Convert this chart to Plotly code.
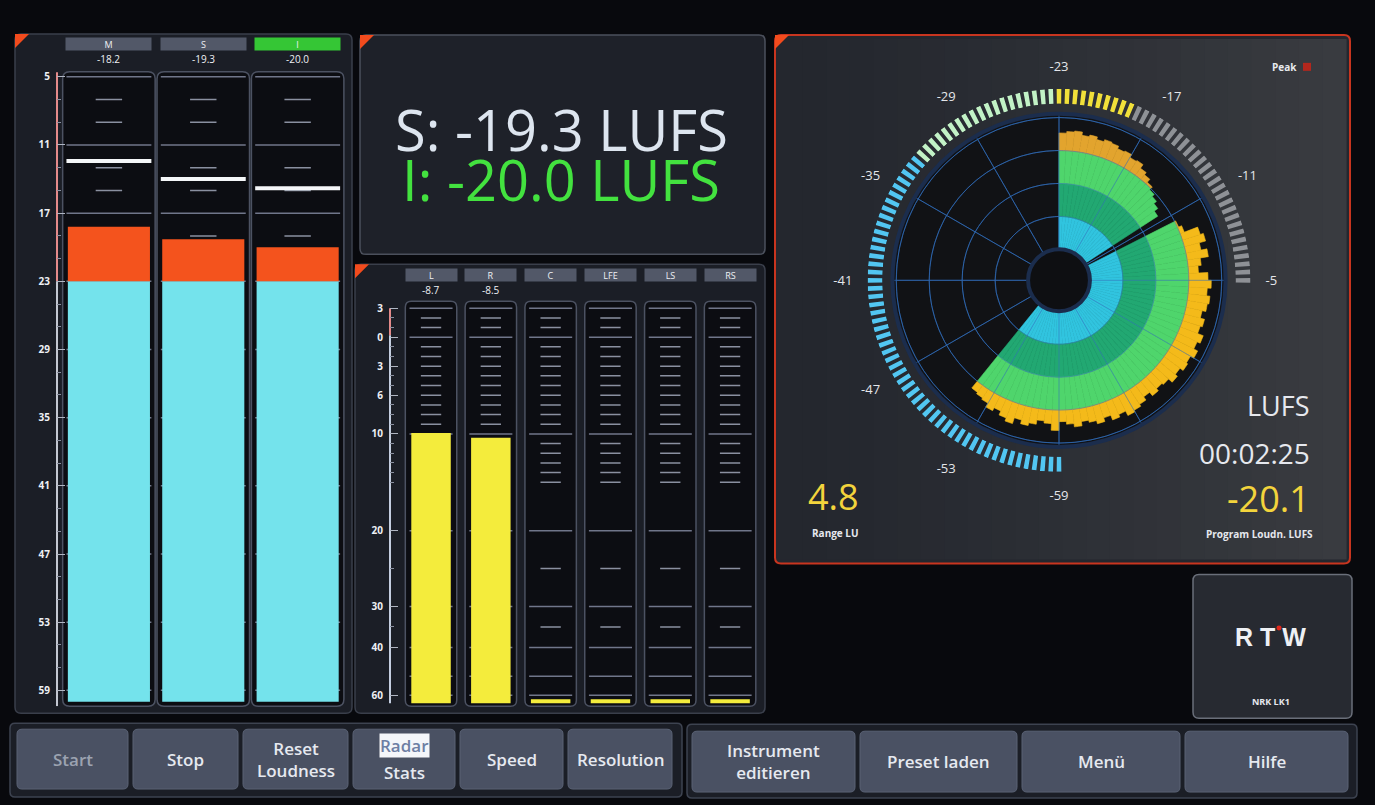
import numpy as np
import plotly.graph_objects as go

W, H = 1375, 805
FONT = "Open Sans"

# ---------------- data ----------------
LOUD_CATS = ["M", "S", "I"]
LOUD_VALUES = [-18.2, -19.3, -20.0]
LOUD_PEAKS = [-12.4, -14.0, -14.8]
LOUD_VALUE_TEXT = ["-18.2", "-19.3", "-20.0"]
LOUD_TARGET = -23.0
LOUD_FLOOR = -60.0
LOUD_TICKS = [-5, -11, -17, -23, -29, -35, -41, -47, -53, -59]
LOUD_TICK_TEXT = ["5", "11", "17", "23", "29", "35", "41", "47", "53", "59"]
LOUD_MINOR = [-7, -9, -13, -15, -19, -21, -25, -27, -31, -33, -37, -39,
              -43, -45, -49, -51, -55, -57]

CH_CATS = ["L", "R", "C", "LFE", "LS", "RS"]
CH_LEVELS = [-9.9, -10.4, -63.0, -63.0, -63.0, -63.0]
CH_PEAK_TEXT = ["-8.7", "-8.5", "", "", "", ""]
CH_TICKS = [3, 0, -3, -6, -10, -20, -30, -40, -60]
CH_TICK_TEXT = ["3", "0", "3", "6", "10", "20", "30", "40", "60"]
CH_LONG = [3, 0, -10, -20, -30, -40, -50, -60]
CH_SHORT = [2, 1, -1, -2, -3, -4, -5, -6, -7, -8, -9, -11, -12, -13, -14, -15, -25, -35]
# meter law (dB -> scale position) of the channel bar graphs
CH_LAW_DB = [-66, -60, -50, -40, -30, -20, -10, 0, 3]
CH_LAW_POS = [-8, 0, 19, 48, 89, 165, 262, 359, 388]
CH_FLOOR = -66

S_TEXT = "S: -19.3 LUFS"
I_TEXT = "I: -20.0 LUFS"

RADAR_VALUES = [-19.8, -19.5, -19.3, -19.9, -19.6, -20.1, -19.7, -19.9, -20.4, -20.2,
                -20.8, -20.6, -21.4, -21.9, -22.6, -23.3, -23.8, -24.4, -25.2, -41.0,
                -41.0, -22.8, -22.2, -19.6, -19.0, -20.2, -19.1, -20.6, -21.2, -19.5,
                -18.9, -19.6, -19.0, -19.3, -20.0, -19.2, -19.6, -18.5, -19.1, -18.3,
                -19.0, -18.7, -19.4, -18.9, -19.8, -20.1, -19.6, -20.4, -19.7, -19.3,
                -19.0, -19.9, -19.4, -20.3, -19.6, -20.2, -20.6, -19.8, -20.4, -20.9,
                -19.3, -20.5, -20.9, -20.1, -19.6, -20.3, -19.2, -19.8, -20.6, -20.0,
                -20.8, -21.1, -21.4]
RADAR_STEP = 3.0
RADAR_SWEEP = 57.0          # angle of the radar's current write position
RADAR_MIN, RADAR_MAX = -41.0, -16.3
RADAR_RINGS = [-35, -29, -23, -17]
RADAR_BANDS = [(-41, -35, "#31c4df"), (-35, -29, "#22a872"), (-29, -23, "#4fd56c"), (-23, 0, "#f4ba1a")]
RADAR_OLD_YELLOW = "#e2a42e"

RING_LEVEL = -18.4
RING_LABELS = [-59, -53, -47, -41, -35, -29, -23, -17, -11, -5]

RANGE_TEXT = "4.8"
PROGRAM_TEXT = "-20.1"
TIME_TEXT = "00:02:25"

LEFT_BUTTONS = ["Start", "Stop", "Reset<br>Loudness", "Radar<br>Stats", "Speed", "Resolution"]
RIGHT_BUTTONS = ["Instrument<br>editieren", "Preset laden", "Menü", "Hilfe"]


# ---------------- helpers ----------------
def px(x):
    return x / W


def py(y):
    return 1 - y / H


def rrect(x0, y0, x1, y1, r, fill, line, lw=1.0, layer="below"):
    X0, X1, Y0, Y1 = px(x0), px(x1), py(y0), py(y1)
    rx, ry = r / W, r / H
    path = (f"M{X0+rx},{Y0} L{X1-rx},{Y0} Q{X1},{Y0} {X1},{Y0-ry} "
            f"L{X1},{Y1+ry} Q{X1},{Y1} {X1-rx},{Y1} L{X0+rx},{Y1} Q{X0},{Y1} {X0},{Y1+ry} "
            f"L{X0},{Y0-ry} Q{X0},{Y0} {X0+rx},{Y0} Z")
    return dict(type="path", xref="paper", yref="paper", path=path, fillcolor=fill,
                line=dict(color=line, width=lw), layer=layer)


def corner(x, y, s=14):
    path = f"M{px(x)},{py(y)} L{px(x+s)},{py(y)} L{px(x)},{py(y+s)} Z"
    return dict(type="path", xref="paper", yref="paper", path=path, fillcolor="#f24b1d",
                line=dict(width=0), layer="below")


def text(x, y, t, size, color, xa="center", ya="middle", family=FONT, weight=None, **kw):
    f = dict(size=size, color=color, family=family)
    if weight:
        f["weight"] = weight
    d = dict(x=px(x), y=py(y), xref="paper", yref="paper", text=t, showarrow=False,
             xanchor=xa, yanchor=ya, font=f)
    d.update(kw)
    return d


def law(db):
    return float(np.interp(db, CH_LAW_DB, CH_LAW_POS))


def mix(c0, c1, t):
    a = [int(c0[i:i + 2], 16) for i in (1, 3, 5)]
    b = [int(c1[i:i + 2], 16) for i in (1, 3, 5)]
    return "#" + "".join(f"{round(a[k] + (b[k] - a[k]) * t):02x}" for k in range(3))


shapes = []
ann = []

# ---------------- panels ----------------
shapes.append(rrect(15, 32, 352, 713, 6, "#1b1e26", "#3a3f4b", 1.5))
shapes.append(rrect(360, 33, 765, 253, 6, "#1e2129", "#4b505c", 1.5))
shapes.append(rrect(355, 263, 765, 713, 6, "#1b1e26", "#3a3f4b", 1.5))
# radar panel with a left-to-right shading
shapes.append(rrect(775, 33, 1350, 563, 6, "#24272e", "#24272e", 1))
NSTRIP = 24
for k in range(NSTRIP):
    xa = 779 + (1346 - 779) * k / NSTRIP
    xb = 779 + (1346 - 779) * (k + 1) / NSTRIP + 0.6
    shapes.append(dict(type="rect", xref="paper", yref="paper", x0=px(xa), x1=px(xb), y0=py(559), y1=py(37),
                       fillcolor=mix("#24272e", "#393b40", (k / (NSTRIP - 1)) ** 1.3),
                       line=dict(width=0), layer="below"))
shapes.append(rrect(775, 33, 1350, 563, 6, "rgba(0,0,0,0)", "#c8351f", 2))
shapes.append(rrect(1193, 574, 1352, 718, 6, "#272a31", "#6a6f7a", 1.5))
shapes.append(rrect(10, 723, 682, 797, 5, "#1b1e26", "#3d4350", 1.5))
shapes.append(rrect(687, 724, 1357, 798, 5, "#1b1e26", "#3d4350", 1.5))
for cx, cy in [(15, 32), (360, 33), (355, 263), (775, 33)]:
    shapes.append(corner(cx, cy))

# ---------------- left loudness meters ----------------
LX = [-0.55, 2.47]
LXD = [57, 342]


def lx_pix(x):
    return LXD[0] + (x - LX[0]) / (LX[1] - LX[0]) * (LXD[1] - LXD[0])


lpos = list(range(len(LOUD_CATS)))
for i in lpos:
    shapes.append(rrect(lx_pix(i - 0.49), 70, lx_pix(i + 0.49), 706, 7, "#0c0d12", "#4c5262", 1.5))
for i in lpos:
    for v in LOUD_TICKS:
        shapes.append(dict(type="line", xref="x", yref="y", x0=i - 0.45, x1=i + 0.45, y0=v, y1=v,
                           line=dict(color="#70768a", width=1.5), layer="below"))
    for v in LOUD_MINOR:
        shapes.append(dict(type="line", xref="x", yref="y", x0=i - 0.14, x1=i + 0.14, y0=v, y1=v,
                           line=dict(color="#8a90a0", width=1.5), layer="below"))
shapes.append(dict(type="line", xref="x domain", yref="y", x0=0, x1=0, y0=-4.6, y1=LOUD_TARGET,
                   line=dict(color="#e48a8a", width=2), layer="below"))
shapes.append(dict(type="line", xref="x domain", yref="y", x0=0, x1=0, y0=LOUD_TARGET, y1=-60.4,
                   line=dict(color="#c4c8d2", width=2), layer="below"))

fig = go.Figure()
fig.add_trace(go.Bar(x=lpos, y=[LOUD_TARGET - LOUD_FLOOR] * 3, base=[LOUD_FLOOR] * 3, width=0.87,
                     marker=dict(color="#74e3ec", line=dict(width=0)), xaxis="x", yaxis="y"))
fig.add_trace(go.Bar(x=lpos, y=[v - LOUD_TARGET for v in LOUD_VALUES], base=[LOUD_TARGET] * 3, width=0.87,
                     marker=dict(color="#f4531d", line=dict(width=0)), xaxis="x", yaxis="y"))
pkx, pky = [], []
for i, p in zip(lpos, LOUD_PEAKS):
    pkx += [i - 0.45, i + 0.45, None]
    pky += [p, p, None]
fig.add_trace(go.Scatter(x=pkx, y=pky, mode="lines", line=dict(color="#f4f6f8", width=4),
                         xaxis="x", yaxis="y"))

for i, (c, t) in enumerate(zip(LOUD_CATS, LOUD_VALUE_TEXT)):
    ann.append(dict(x=i, xref="x", y=py(42.5), yref="paper", text=c, showarrow=False,
                    xanchor="center", yanchor="middle",
                    bgcolor="#35c635" if c == "I" else "#525868", width=83, height=10, borderpad=1,
                    font=dict(size=9, color="#eef0f4", family=FONT)))
    ann.append(dict(x=i, xref="x", y=py(57), yref="paper", text=t, showarrow=False,
                    xanchor="center", yanchor="middle",
                    font=dict(size=10, color="#eef0f4", family=FONT)))

# ---------------- channel meters ----------------
CX = [-0.686, 5.45]
CXD = [390, 757]


def cx_pix(x):
    return CXD[0] + (x - CX[0]) / (CX[1] - CX[0]) * (CXD[1] - CXD[0])


cpos = list(range(len(CH_CATS)))
for i in cpos:
    shapes.append(rrect(cx_pix(i - 0.43), 300, cx_pix(i + 0.43), 706, 6, "#0c0d12", "#4c5262", 1.5))
for i in cpos:
    for v in CH_LONG:
        shapes.append(dict(type="line", xref="x2", yref="y2", x0=i - 0.36, x1=i + 0.36, y0=law(v), y1=law(v),
                           line=dict(color="#70768a", width=1.5), layer="below"))
    for v in CH_SHORT:
        shapes.append(dict(type="line", xref="x2", yref="y2", x0=i - 0.17, x1=i + 0.17, y0=law(v), y1=law(v),
                           line=dict(color="#8a90a0", width=1.5), layer="below"))
shapes.append(dict(type="line", xref="x2 domain", yref="y2", x0=0, x1=0, y0=law(3.3), y1=law(0.2),
                   line=dict(color="#e48a8a", width=2), layer="below"))
shapes.append(dict(type="line", xref="x2 domain", yref="y2", x0=0, x1=0, y0=law(0.2), y1=law(CH_FLOOR),
                   line=dict(color="#c4cee0", width=2), layer="below"))

base_pos = law(CH_FLOOR)
fig.add_trace(go.Bar(x=cpos, y=[law(v) - base_pos for v in CH_LEVELS], base=[base_pos] * len(cpos),
                     width=0.66, marker=dict(color="#f4ec3c", line=dict(width=0)), xaxis="x2", yaxis="y2"))

for i, (c, t) in enumerate(zip(CH_CATS, CH_PEAK_TEXT)):
    ann.append(dict(x=i, xref="x2", y=py(274), yref="paper", text=c, showarrow=False,
                    xanchor="center", yanchor="middle",
                    bgcolor="#525868", width=49, height=10, borderpad=1,
                    font=dict(size=9, color="#eef0f4", family=FONT)))
    if t:
        ann.append(dict(x=i, xref="x2", y=py(289), yref="paper", text=t, showarrow=False,
                        xanchor="center", yanchor="middle",
                        font=dict(size=10, color="#eef0f4", family=FONT)))

# ---------------- big loudness text ----------------
ann.append(text(561, 127, S_TEXT, 56, "#dde5ef", height=46))
ann.append(text(561, 177, I_TEXT, 56, "#43e23f", height=46))

# ---------------- radar ----------------
RCX, RCY, RR = 1059, 279, 167
RING_IN, RING_OUT = 177, 192
shapes.append(dict(type="circle", xref="paper", yref="paper",
                   x0=px(RCX - 31), x1=px(RCX + 31), y0=py(RCY + 31), y1=py(RCY - 31),
                   fillcolor="#0e0f12", line=dict(width=0), layer="below"))

theta = np.arange(len(RADAR_VALUES)) * RADAR_STEP + RADAR_STEP / 2
for lo, hi, col in RADAR_BANDS:
    th, ln, cols = [], [], []
    for t_, v in zip(theta, RADAR_VALUES):
        if v > lo:
            th.append(float(t_))
            ln.append(min(v, hi) - lo)
            cols.append(RADAR_OLD_YELLOW if (lo == -23 and t_ < RADAR_SWEEP) else col)
    fig.add_trace(go.Barpolar(theta=th, r=ln, base=[lo] * len(ln), width=RADAR_STEP,
                              marker=dict(color=cols, line=dict(color=cols, width=0.6)),
                              subplot="polar"))
# grid overlay on top of fill
gt, gr = [], []
for a in range(0, 360, 30):
    gt += [a, a, None]
    gr += [RADAR_MIN, RADAR_RINGS[-1], None]
circ = np.linspace(0, 360, 181)
for rv in RADAR_RINGS:
    gt += list(circ) + [None]
    gr += [rv] * len(circ) + [None]
fig.add_trace(go.Scatterpolar(theta=gt, r=gr, mode="lines", line=dict(color="rgba(55,115,190,0.55)", width=1),
                              subplot="polar"))

# ring meter
ring_vals = np.arange(-59, -4.9, 0.5)
ring_theta = (ring_vals + 23) * 5
ring_cols = []
for v in ring_vals:
    if v > RING_LEVEL:
        ring_cols.append("#8e9196")
    elif v >= -23:
        ring_cols.append("#f1e03a")
    elif v >= -32.5:
        ring_cols.append("#c2f2c6")
    else:
        ring_cols.append("#52c6f2")
fig.add_trace(go.Barpolar(theta=ring_theta, r=[1] * len(ring_vals), base=[0] * len(ring_vals), width=1.4,
                          marker=dict(color=ring_cols, line=dict(width=0)), subplot="polar2"))

ann += [
    text(1299, 65, "<b>Peak</b>", 10, "#e8eaee", xa="right"),
    text(1312, 405, "LUFS", 27, "#e6e8ee", xa="right"),
    text(1312, 452, TIME_TEXT, 28, "#e6e8ee", xa="right"),
    text(1312, 498, PROGRAM_TEXT, 36, "#f3d43c", xa="right"),
    text(1315, 533, "<b>Program Loudn. LUFS</b>", 10, "#e6e8ee", xa="right"),
    text(806, 496, RANGE_TEXT, 36, "#f3d43c", xa="left"),
    text(810, 532, "<b>Range LU</b>", 10, "#e6e8ee", xa="left"),
]
shapes.append(dict(type="rect", xref="paper", yref="paper", x0=px(1303), x1=px(1311), y0=py(69), y1=py(61),
                   fillcolor="#b3271d", line=dict(width=0), layer="above"))

# ---------------- RTW logo ----------------
ann.append(text(1270, 637, "<b>R T W</b>", 25, "#eef0f4", family="Liberation Sans"))
shapes.append(dict(type="circle", xref="paper", yref="paper", x0=px(1276.5), x1=px(1281.5), y0=py(630), y1=py(625),
                   fillcolor="#e0281c", line=dict(width=0), layer="above"))
ann.append(text(1271, 701, "<b>NRK LK1</b>", 9, "#e6e8ee"))

# ---------------- buttons ----------------
LB = [(17, 128), (133, 238), (243, 348), (353, 455), (460, 563), (568, 672)]
RB = [(692, 855), (860, 1017), (1022, 1180), (1185, 1348)]
for (x0, x1), lab in zip(LB, LEFT_BUTTONS):
    shapes.append(rrect(x0, 729, x1, 789, 5, "#4a5163", "#5a6275", 1))
    col = "#9ca3b1" if lab == "Start" else "#e6e9f0"
    cxm = (x0 + x1) / 2
    if lab.startswith("Radar"):
        top, bot = lab.split("<br>")
        ann.append(text(cxm, 745, top, 17, "#6d7ea4", weight=600, bgcolor="#f4f6fa", borderpad=0))
        ann.append(text(cxm, 772, bot, 17, col, weight=600))
    else:
        ann.append(text(cxm, 759, lab, 17, col, weight=600))
for (x0, x1), lab in zip(RB, RIGHT_BUTTONS):
    shapes.append(rrect(x0, 731, x1, 792, 5, "#4a5163", "#5a6275", 1))
    ann.append(text((x0 + x1) / 2, 761, lab, 17, "#e6e9f0", weight=600))

# ---------------- layout ----------------
tickfont = dict(size=10, color="#eef0f4", family=FONT)
fig.update_layout(
    width=W, height=H, margin=dict(l=0, r=0, t=0, b=0),
    paper_bgcolor="#08090d", plot_bgcolor="rgba(0,0,0,0)",
    showlegend=False, hovermode=False, barmode="overlay",
    xaxis=dict(domain=[px(LXD[0]), px(LXD[1])], range=LX, visible=False, fixedrange=True),
    yaxis=dict(domain=[py(706), py(70)], range=[-60.4, -4.56], anchor="x",
               tickmode="array", tickvals=LOUD_TICKS, ticktext=[f"<b>{t}</b>" for t in LOUD_TICK_TEXT],
               ticks="inside", ticklen=8, tickwidth=1, tickcolor="#b0b6c2", tickfont=tickfont,
               ticklabelstandoff=6, showgrid=False, zeroline=False, showline=False, fixedrange=True,
               minor=dict(tickmode="array", tickvals=LOUD_MINOR, ticks="inside", ticklen=4,
                          tickcolor="#8a90a0", showgrid=False)),
    xaxis2=dict(domain=[px(CXD[0]), px(CXD[1])], range=CX, visible=False, anchor="y2", fixedrange=True),
    yaxis2=dict(domain=[py(706), py(300)], range=[-11, 395], anchor="x2",
                tickmode="array", tickvals=[law(v) for v in CH_TICKS],
                ticktext=[f"<b>{t}</b>" for t in CH_TICK_TEXT],
                ticks="inside", ticklen=8, tickwidth=1, tickcolor="#b0b6c2", tickfont=tickfont,
                ticklabelstandoff=6, showgrid=False, zeroline=False, showline=False, fixedrange=True,
                minor=dict(tickmode="array", tickvals=[law(v) for v in CH_SHORT], ticks="inside",
                           ticklen=4, tickcolor="#8a90a0", showgrid=False)),
    polar=dict(
        domain=dict(x=[px(RCX - RR), px(RCX + RR)], y=[py(RCY + RR), py(RCY - RR)]),
        bgcolor="#111215", hole=31 / RR,
        radialaxis=dict(range=[RADAR_MIN, RADAR_MAX], tickmode="array", tickvals=RADAR_RINGS,
                        showticklabels=False, ticks="", gridcolor="#23508c", showline=False),
        angularaxis=dict(rotation=90, direction="clockwise", tickmode="linear", tick0=0, dtick=30,
                         showticklabels=False, ticks="", gridcolor="#23508c",
                         showline=True, linecolor="#1b2d4d", linewidth=4),
    ),
    polar2=dict(
        domain=dict(x=[px(RCX - RING_OUT), px(RCX + RING_OUT)], y=[py(RCY + RING_OUT), py(RCY - RING_OUT)]),
        bgcolor="rgba(0,0,0,0)", hole=RING_IN / RING_OUT,
        radialaxis=dict(visible=False, range=[0, 1]),
        angularaxis=dict(rotation=90, direction="clockwise", tickmode="array",
                         tickvals=[((v + 23) * 5) % 360 for v in RING_LABELS],
                         ticktext=[str(v) for v in RING_LABELS], showgrid=False, showline=False,
                         ticks="outside", ticklen=12, tickcolor="rgba(0,0,0,0)",
                         tickfont=dict(size=13, color="#e4e6ea", family=FONT)),
    ),
    shapes=shapes, annotations=ann,
)

fig.write_html("out.html", config={"displayModeBar": False},
               post_script="document.body.style.margin='0';document.body.style.background='#08090d';")
